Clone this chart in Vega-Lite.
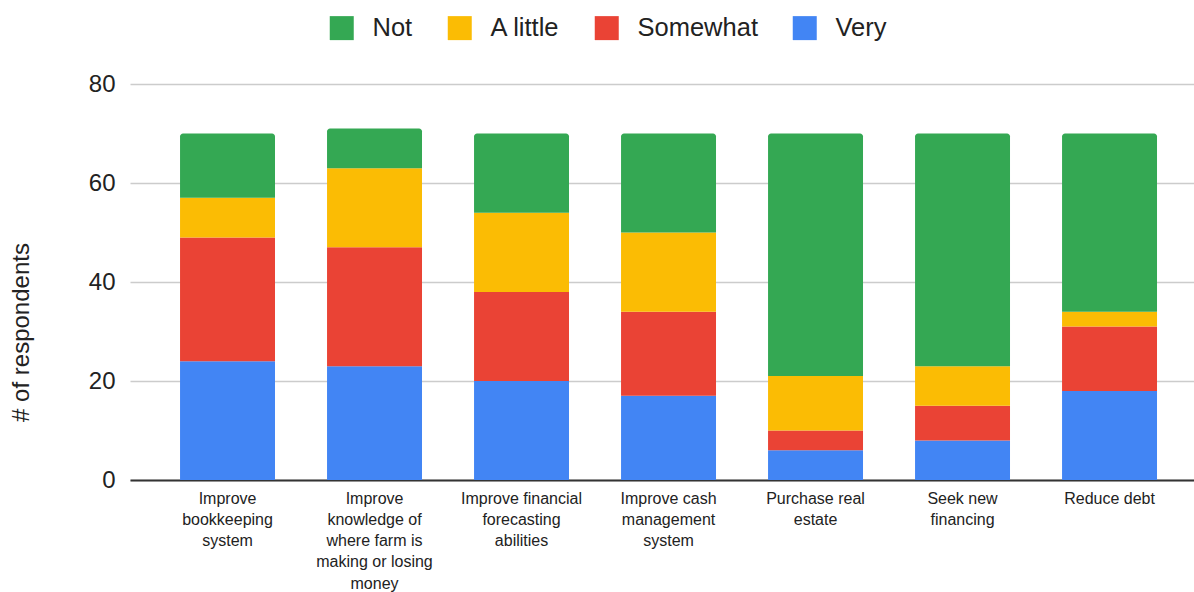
{
  "$schema": "https://vega.github.io/schema/vega-lite/v6.json",
  "autosize": "none",
  "width": 1064,
  "height": 396,
  "padding": {"left": 130, "top": 84, "right": 0, "bottom": 112},
  "background": "white",
  "config": {
    "font": "Liberation Sans",
    "view": {"stroke": null},
    "axis": {"labelColor": "#222222", "titleColor": "#222222"}
  },
  "data": {
    "values": [
      {"goal": "Improve bookkeeping system", "level": "Very", "rank": 1, "count": 24},
      {"goal": "Improve bookkeeping system", "level": "Somewhat", "rank": 2, "count": 25},
      {"goal": "Improve bookkeeping system", "level": "A little", "rank": 3, "count": 8},
      {"goal": "Improve bookkeeping system", "level": "Not", "rank": 4, "count": 13},
      {"goal": "Improve knowledge of where farm is making or losing money", "level": "Very", "rank": 1, "count": 23},
      {"goal": "Improve knowledge of where farm is making or losing money", "level": "Somewhat", "rank": 2, "count": 24},
      {"goal": "Improve knowledge of where farm is making or losing money", "level": "A little", "rank": 3, "count": 16},
      {"goal": "Improve knowledge of where farm is making or losing money", "level": "Not", "rank": 4, "count": 8},
      {"goal": "Improve financial forecasting abilities", "level": "Very", "rank": 1, "count": 20},
      {"goal": "Improve financial forecasting abilities", "level": "Somewhat", "rank": 2, "count": 18},
      {"goal": "Improve financial forecasting abilities", "level": "A little", "rank": 3, "count": 16},
      {"goal": "Improve financial forecasting abilities", "level": "Not", "rank": 4, "count": 16},
      {"goal": "Improve cash management system", "level": "Very", "rank": 1, "count": 17},
      {"goal": "Improve cash management system", "level": "Somewhat", "rank": 2, "count": 17},
      {"goal": "Improve cash management system", "level": "A little", "rank": 3, "count": 16},
      {"goal": "Improve cash management system", "level": "Not", "rank": 4, "count": 20},
      {"goal": "Purchase real estate", "level": "Very", "rank": 1, "count": 6},
      {"goal": "Purchase real estate", "level": "Somewhat", "rank": 2, "count": 4},
      {"goal": "Purchase real estate", "level": "A little", "rank": 3, "count": 11},
      {"goal": "Purchase real estate", "level": "Not", "rank": 4, "count": 49},
      {"goal": "Seek new financing", "level": "Very", "rank": 1, "count": 8},
      {"goal": "Seek new financing", "level": "Somewhat", "rank": 2, "count": 7},
      {"goal": "Seek new financing", "level": "A little", "rank": 3, "count": 8},
      {"goal": "Seek new financing", "level": "Not", "rank": 4, "count": 47},
      {"goal": "Reduce debt", "level": "Very", "rank": 1, "count": 18},
      {"goal": "Reduce debt", "level": "Somewhat", "rank": 2, "count": 13},
      {"goal": "Reduce debt", "level": "A little", "rank": 3, "count": 3},
      {"goal": "Reduce debt", "level": "Not", "rank": 4, "count": 36}
    ]
  },
  "transform": [
    {"stack": "count", "groupby": ["goal"], "sort": [{"field": "rank", "order": "ascending"}], "as": ["y0", "y1"]}
  ],
  "encoding": {
    "x": {
      "field": "goal",
      "type": "nominal",
      "sort": null,
      "scale": {"paddingInner": 0.354, "paddingOuter": 0.296, "align": 0.575},
      "axis": {
        "title": null,
        "labelAngle": 0,
        "labelFontSize": 16,
        "labelLineHeight": 21.3,
        "labelPadding": 10,
        "labelBaseline": "top",
        "ticks": false,
        "domainColor": "#333333",
        "domainWidth": 2,
        "labelExpr": "datum.value == 'Improve bookkeeping system' ? ['Improve', 'bookkeeping', 'system'] : datum.value == 'Improve knowledge of where farm is making or losing money' ? ['Improve', 'knowledge of', 'where farm is', 'making or losing', 'money'] : datum.value == 'Improve financial forecasting abilities' ? ['Improve financial', 'forecasting', 'abilities'] : datum.value == 'Improve cash management system' ? ['Improve cash', 'management', 'system'] : datum.value == 'Purchase real estate' ? ['Purchase real', 'estate'] : datum.value == 'Seek new financing' ? ['Seek new', 'financing'] : datum.value"
      }
    },
    "y": {
      "field": "y1",
      "type": "quantitative",
      "scale": {"domain": [0, 80], "nice": false},
      "axis": {
        "title": "# of respondents",
        "titleFontSize": 24,
        "titleFontWeight": "normal",
        "titlePadding": 55,
        "titleY": 248,
        "labelFontSize": 24,
        "labelPadding": 15,
        "values": [0, 20, 40, 60, 80],
        "ticks": false,
        "domain": false,
        "gridColor": "#cccccc",
        "gridWidth": 1.5
      }
    },
    "y2": {"field": "y0"},
    "color": {
      "field": "level",
      "type": "nominal",
      "scale": {
        "domain": ["Not", "A little", "Somewhat", "Very"],
        "range": ["#34A853", "#FBBC04", "#EA4335", "#4285F4"]
      },
      "legend": {
        "title": null,
        "orient": "none",
        "direction": "horizontal",
        "legendX": 199,
        "legendY": -69,
        "symbolType": "square",
        "symbolSize": 576,
        "symbolStrokeWidth": 0,
        "symbolOpacity": 1,
        "labelFontSize": 25.5,
        "labelColor": "#222222",
        "labelOffset": 18,
        "columnPadding": 34
      }
    }
  },
  "layer": [
    {
      "transform": [{"filter": "datum.level != 'Not'"}],
      "mark": {"type": "bar"}
    },
    {
      "transform": [{"filter": "datum.level == 'Not'"}],
      "mark": {"type": "bar", "cornerRadiusTopLeft": 3, "cornerRadiusTopRight": 3}
    }
  ]
}
